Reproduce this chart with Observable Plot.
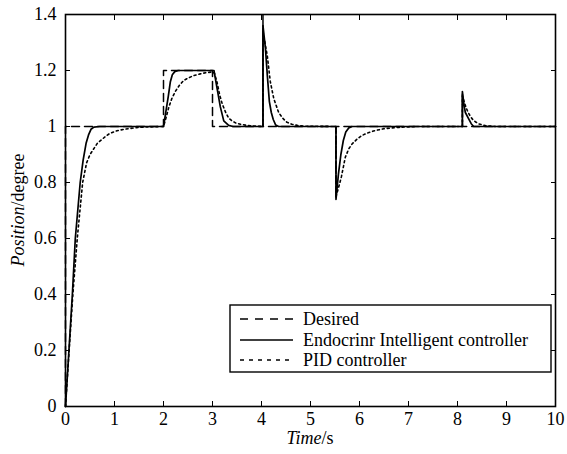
<!DOCTYPE html>
<html>
<head>
<meta charset="utf-8">
<script src="https://cdn.jsdelivr.net/npm/d3@7"></script>
<script src="https://cdn.jsdelivr.net/npm/@observablehq/plot@0.6"></script>
<style>
  html, body { margin: 0; padding: 0; background: #fff; }
  #chart { width: 567px; height: 454px; }
  #chart svg, #chart svg text { font-family: "Liberation Serif", "Times New Roman", serif !important; }
</style>
</head>
<body>
<div id="chart"></div>
<script>
// ---- data ----
const desiredT = [0, 0, 2, 2, 3, 3, 4.03, 4.03, 4.03, 5.52, 5.52, 5.52, 8.1, 8.1, 8.1, 10];
const desiredV = [0, 1, 1, 1.2, 1.2, 1, 1, 1.4, 1, 1, 0.74, 1, 1, 1.12, 1, 1];

const endoT = [0, 0.07, 0.14, 0.2, 0.3, 0.36, 0.42, 0.47, 0.52, 0.58, 0.7,
  2.0, 2.05, 2.1, 2.14, 2.18, 2.23, 2.3, 2.4,
  3.03, 3.09, 3.16, 3.23, 3.33, 3.42,
  4.03, 4.03, 4.08, 4.12, 4.16, 4.2, 4.24, 4.29, 4.35,
  5.52, 5.52, 5.57, 5.62, 5.67, 5.72, 5.78, 5.85,
  8.1, 8.1, 8.13, 8.16, 8.22, 8.28, 8.33, 10];
const endoV = [0, 0.2, 0.4, 0.6, 0.8, 0.88, 0.94, 0.97, 0.99, 0.998, 1,
  1, 1.055, 1.11, 1.16, 1.185, 1.196, 1.2, 1.2,
  1.2, 1.14, 1.07, 1.02, 1.004, 1,
  1, 1.36, 1.28, 1.18, 1.09, 1.05, 1.025, 1.005, 1,
  1, 0.74, 0.83, 0.9, 0.95, 0.98, 0.995, 1,
  1, 1.125, 1.08, 1.05, 1.03, 1.01, 1, 1];

const pidT = [0, 0.07, 0.15, 0.24, 0.35, 0.43, 0.5, 0.65, 0.8, 0.9, 1.05, 1.2, 1.4, 1.6, 2.0,
  2.05, 2.11, 2.17, 2.24, 2.32, 2.41, 2.5, 2.62, 2.75, 2.86, 3.0,
  3.04, 3.09, 3.15, 3.2, 3.27, 3.33, 3.4, 3.47, 3.57, 3.67, 3.8, 4.03,
  4.03, 4.07, 4.12, 4.18, 4.25, 4.35, 4.43, 4.52, 4.62, 4.73, 4.9, 5.52,
  5.52, 5.57, 5.63, 5.71, 5.78, 5.85, 5.95, 6.05, 6.18, 6.33, 6.5, 6.67, 6.9, 7.2, 8.1,
  8.1, 8.15, 8.2, 8.25, 8.3, 8.37, 8.44, 8.52, 8.6, 8.8, 10];
const pidV = [0, 0.19, 0.4, 0.6, 0.8, 0.87, 0.9, 0.94, 0.962, 0.975, 0.985, 0.99, 0.995, 0.998, 1,
  1.03, 1.07, 1.1, 1.125, 1.146, 1.164, 1.173, 1.182, 1.188, 1.192, 1.195,
  1.19, 1.16, 1.11, 1.08, 1.05, 1.03, 1.02, 1.013, 1.008, 1.005, 1.002, 1.0,
  1.34, 1.3, 1.25, 1.16, 1.1, 1.05, 1.03, 1.015, 1.008, 1.004, 1.001, 1,
  0.75, 0.78, 0.82, 0.89, 0.92, 0.938, 0.955, 0.968, 0.978, 0.986, 0.992, 0.995, 0.998, 1, 1,
  1.11, 1.08, 1.057, 1.04, 1.027, 1.016, 1.009, 1.005, 1.002, 1, 1];

const xTicks = [0, 1, 2, 3, 4, 5, 6, 7, 8, 9, 10];
const yTicks = [0, 0.2, 0.4, 0.6, 0.8, 1, 1.2, 1.4];

const seriesNames = ["Desired", "Endocrinr Intelligent controller", "PID controller"];

const desired = desiredT.map((t, i) => ({t, v: desiredV[i]}));
const endo = endoT.map((t, i) => ({t, v: endoV[i]}));
const pid = pidT.map((t, i) => ({t, v: pidV[i]}));

const styles = [
  {stroke: "#000", strokeWidth: 1.5, strokeDasharray: "8,5"},
  {stroke: "#000", strokeWidth: 1.7, strokeDasharray: null},
  {stroke: "#000", strokeWidth: 1.6, strokeDasharray: "2,3"}
];
const legendDash = ["8,7", null, "4,5"];

const font = "Liberation Serif, Times New Roman, serif";
const fs = 18;

const chart = Plot.plot({
  width: 567,
  height: 454,
  marginLeft: 65,
  marginRight: 12,
  marginTop: 14,
  marginBottom: 48,
  style: {fontSize: fs + "px", background: "#fff", color: "#000"},
  x: {domain: [0, 10]},
  y: {domain: [0, 1.4]},
  marks: [
    Plot.line(desired, {x: "t", y: "v", ...styles[0]}),
    Plot.line(pid, {x: "t", y: "v", ...styles[2]}),
    Plot.line(endo, {x: "t", y: "v", ...styles[1]}),
    Plot.axisX({anchor: "bottom", ticks: xTicks, tickSize: -5, tickPadding: 11, tickFormat: d => String(d), label: null, fontSize: fs, fontFamily: font}),
    Plot.axisX({anchor: "top", ticks: xTicks, tickSize: -5, tickFormat: () => "", label: null}),
    Plot.axisY({anchor: "left", ticks: yTicks, tickSize: -5, tickPadding: 14, tickFormat: d => String(d), label: null, fontSize: fs, fontFamily: font}),
    Plot.axisY({anchor: "right", ticks: yTicks, tickSize: -5, tickFormat: () => "", label: null}),
    Plot.frame({stroke: "#000", strokeWidth: 1.6})
  ]
});
chart.setAttribute("font-family", font);

document.getElementById("chart").appendChild(chart);

// axis titles and legend
const svg = d3.select(chart);

const xl = svg.append("text")
  .attr("x", 310).attr("y", 444)
  .attr("text-anchor", "middle")
  .attr("font-family", font).attr("font-size", fs).attr("fill", "#000");
xl.append("tspan").attr("font-style", "italic").text("Time");
xl.append("tspan").text("/s");

const yl = svg.append("text")
  .attr("transform", "translate(24,210) rotate(-90)")
  .attr("text-anchor", "middle")
  .attr("font-family", font).attr("font-size", fs).attr("fill", "#000");
yl.append("tspan").attr("font-style", "italic").text("Position");
yl.append("tspan").text("/degree");

const lg = svg.append("g").attr("text-anchor", "start");
lg.append("rect")
  .attr("x", 230).attr("y", 305).attr("width", 321).attr("height", 67)
  .attr("fill", "#fff").attr("stroke", "#000").attr("stroke-width", 1.4);
const rowsY = [319, 340, 360];
seriesNames.forEach((name, i) => {
  lg.append("line")
    .attr("x1", 240).attr("x2", 293).attr("y1", rowsY[i]).attr("y2", rowsY[i])
    .attr("stroke", "#000").attr("stroke-width", styles[i].strokeWidth)
    .attr("stroke-dasharray", legendDash[i]);
  lg.append("text")
    .attr("x", 303).attr("y", rowsY[i] + 6)
    .attr("text-anchor", "start")
    .attr("font-family", font).attr("font-size", fs).attr("fill", "#000")
    .text(name);
});
</script>
</body>
</html>
